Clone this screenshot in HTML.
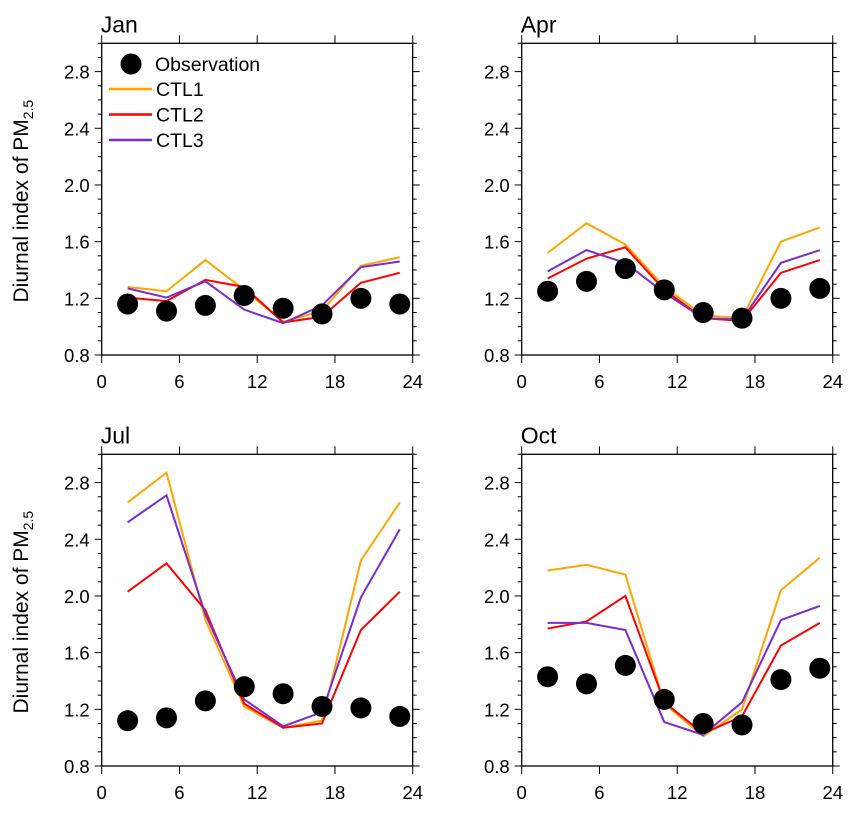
<!DOCTYPE html>
<html><head><meta charset="utf-8"><style>
body{margin:0;background:#fff}
svg{display:block;font-family:"Liberation Sans",sans-serif}
</style></head><body>
<svg id="chart" width="857" height="817"></svg>
<script>
const hours=[2,5,8,11,14,17,20,23];
const panelNames=["Jan","Apr","Jul","Oct"];
const yTicks=[0.8,1.2,1.6,2.0,2.4,2.8];
const xTicks=[0,6,12,18,24];
const obsJan=[1.16,1.11,1.15,1.22,1.13,1.09,1.20,1.16];
const ctl1Jan=[1.28,1.25,1.47,1.26,1.035,1.11,1.43,1.49];
const ctl2Jan=[1.205,1.18,1.33,1.28,1.03,1.07,1.31,1.38];
const ctl3Jan=[1.27,1.205,1.32,1.12,1.025,1.15,1.42,1.46];
const obsApr=[1.25,1.32,1.41,1.26,1.10,1.06,1.20,1.27];
const ctl1Apr=[1.52,1.73,1.58,1.28,1.08,1.06,1.60,1.70];
const ctl2Apr=[1.34,1.48,1.56,1.26,1.06,1.04,1.38,1.47];
const ctl3Apr=[1.39,1.54,1.45,1.24,1.06,1.05,1.45,1.54];
const obsJul=[1.12,1.14,1.26,1.36,1.31,1.22,1.21,1.15];
const ctl1Jul=[2.66,2.87,1.83,1.22,1.07,1.12,2.25,2.66];
const ctl2Jul=[2.03,2.23,1.90,1.24,1.07,1.10,1.76,2.03];
const ctl3Jul=[2.52,2.71,1.87,1.27,1.08,1.18,1.99,2.47];
const obsOct=[1.43,1.38,1.51,1.27,1.10,1.09,1.41,1.49];
const ctl1Oct=[2.18,2.22,2.15,1.24,1.01,1.20,2.04,2.27];
const ctl2Oct=[1.77,1.82,2.00,1.25,1.03,1.15,1.65,1.81];
const ctl3Oct=[1.81,1.81,1.76,1.11,1.02,1.25,1.83,1.93];
const series=[[obsJan,ctl1Jan,ctl2Jan,ctl3Jan],[obsApr,ctl1Apr,ctl2Apr,ctl3Apr],[obsJul,ctl1Jul,ctl2Jul,ctl3Jul],[obsOct,ctl1Oct,ctl2Oct,ctl3Oct]];
const colors=["#FFA500","#FF0000","#7B2BD0"];
const ctlNames=["ctl1","ctl2","ctl3"];
const svg=document.getElementById('chart');
const NS="http://www.w3.org/2000/svg";
function mk(t,a,p){const e=document.createElementNS(NS,t);for(const k in a)e.setAttribute(k,a[k]);(p||svg).appendChild(e);return e;}
const W=311, H=311.7, PXH=12.96, PXU=141.7;
const origins=[[101.7,43.3],[521.7,43.3],[101.7,454.3],[521.7,454.3]];
origins.forEach((o,pi)=>{
  const [L,T]=o; const B=T+H;
  const xs=h=>L+h*PXH;
  const ys=v=>B-(v-0.8)*PXU;
  const g=mk('g',{});
  
  
  const t=mk('text',{x:L-1,y:T-11,'font-size':23},g);t.textContent=panelNames[pi];
  
  const r=mk('rect',{x:L,y:T,width:W,height:H,fill:'none',stroke:'#000','stroke-width':1.3},g);
  
  for(let v=0.8;v<=3.0001;v+=0.1){
    const y=ys(v); const major=Math.abs(Math.round(v*10)%4)===0 && v<2.95;
    const len=major?7:4;
    mk('line',{x1:L-len,x2:L,y1:y,y2:y,stroke:'#000','stroke-width':1},g);
    mk('line',{x1:L+W,x2:L+W+len,y1:y,y2:y,stroke:'#000','stroke-width':1},g);
  }
  yTicks.forEach(v=>{const tx=mk('text',{x:L-12,y:ys(v)+7,'font-size':18.5,'text-anchor':'end'},g);tx.textContent=v.toFixed(1);
    });
  xTicks.forEach(h=>{const x=xs(h);
    mk('line',{x1:x,x2:x,y1:B,y2:B+8,stroke:'#000','stroke-width':1},g);
    mk('line',{x1:x,x2:x,y1:T-8,y2:T,stroke:'#000','stroke-width':1},g);
    const tx=mk('text',{x:x,y:B+33,'font-size':18.5,'text-anchor':'middle'},g);tx.textContent=h;
    });
  if(pi%2===0){
    const yt=mk('text',{transform:`translate(28,${T+H/2+2}) rotate(-90)`,'font-size':21,'text-anchor':'middle'},g);
    yt.innerHTML='Diurnal index of PM<tspan font-size="14" dy="5">2.5</tspan>';
    
  }
  const d=series[pi];
  [1,2,3].forEach(k=>{
    const pts=hours.map((h,i)=>xs(h)+','+ys(d[k][i])).join(' ');
    const pl=mk('polyline',{points:pts,fill:'none',stroke:colors[k-1],'stroke-width':2},g);
    
  });
  hours.forEach((h,i)=>{const c=mk('circle',{cx:xs(h),cy:ys(d[0][i]),r:10.5,fill:'#000'},g);
    });
});
const lg=mk('g',{});


mk('circle',{cx:131,cy:64,r:10.5,fill:'#000'},lg);
const lt=mk('text',{x:155,y:71,'font-size':19.5},lg);lt.textContent='Observation';
["CTL1","CTL2","CTL3"].forEach((n,i)=>{const y=89+i*25.5;
  mk('line',{x1:109,x2:152,y1:y,y2:y,stroke:colors[i],'stroke-width':2.5},lg);
  const tx=mk('text',{x:156,y:y+7,'font-size':19.5},lg);tx.textContent=n;
  });
</script>
</body></html>
